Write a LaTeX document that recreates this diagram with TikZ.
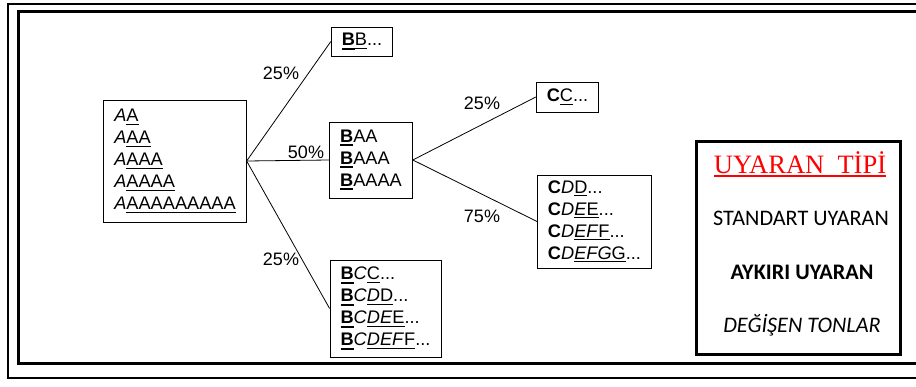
\documentclass[tikz,border=0pt]{standalone}
\usepackage{fontspec}
\setmainfont{Liberation Sans}
\newfontfamily\carlito{Carlito}
\newfontfamily\tnr{Liberation Serif}
\usetikzlibrary{positioning}

% underline with a given thickness
\newcommand{\undl}[2][1.1pt]{\setbox0=\hbox{#2}\rlap{\rule[\dimexpr-2pt-#1\relax]{\wd0}{#1}}\box0}
\newcommand{\bB}{\undl[2.2pt]{\textbf{B}}}

\begin{document}
\begin{tikzpicture}[x=1pt,y=1pt,
  seqbox/.style={rectangle,draw,line width=0.9pt,align=left,inner xsep=10.5pt,inner ysep=0pt,font=\fontsize{18.2}{22}\selectfont},
  branch/.style={line width=0.8pt},
  pct/.style={font=\fontsize{18}{22}\selectfont},
  keytxt/.style={font=\carlito\fontsize{22.2}{26}\selectfont,anchor=base},
]
\useasboundingbox (0,0) rectangle (916,386);
\clip (0,0) rectangle (916,386);

% ==== frames ====
\draw[line width=2pt] (8,8) rectangle (940,382);
\draw[line width=3pt] (18,22.5) rectangle (940,374);

% ==== sequences ====
\node[seqbox,minimum height=122pt] (A) at (175,225) {\textit{A}\undl{A}\\
  \textit{A}\undl{AA}\\
  \textit{A}\undl{AAA}\\
  \textit{A}\undl{AAAA}\\
  \textit{A}\undl{AAAAAAAAA}};

\node[seqbox,minimum height=29pt] (B1) at (362,344.5) {\bB\undl{B}...};
\node[seqbox,minimum height=76pt] (B2) at (371,226) {\bB AA\\ \bB AAA\\ \bB AAAA};
\node[seqbox,minimum height=97pt] (B3) at (385.5,77.5) {\bB\textit{C}\undl{C}...\\
  \bB\textit{C}\undl{\textit{D}D}...\\
  \bB\textit{C}\undl{\textit{DE}E}...\\
  \bB\textit{C}\undl{\textit{DEF}F}...};

\node[seqbox,minimum height=30pt] (C1) at (567.5,289) {\textbf{C}\undl{C}...};
\node[seqbox,minimum height=93pt] (C2) at (594.5,164.5) {\textbf{C}\textit{D}\undl{D}...\\
  \textbf{C}\textit{D}\undl{\textit{E}E}...\\
  \textbf{C}\textit{D}\undl{\textit{EF}F}...\\
  \textbf{C}\textit{D}\undl{\textit{EFG}G}...};

% ==== branches ====
\draw[branch] (A.east) -- (B1.west);
\draw[branch] (A.east) -- (B2.west);
\draw[branch] (A.east) -- (B3.west);
\draw[branch] (B2.east) -- (C1.west);
\draw[branch] (B2.east) -- (C2.west);

\node[pct] (pB1) at (281,313) {25\%};
\node[pct] (pB2) at (306,234) {50\%};
\node[pct] (pB3) at (281,127) {25\%};
\node[pct] (pC1) at (482,283) {25\%};
\node[pct] (pC2) at (482,170) {75\%};

% ==== key ====
\node[draw,line width=3pt,inner sep=0pt,minimum width=204pt,minimum height=212.5pt] (key) at (798.5,138.25) {};
\node[font=\tnr\fontsize{26.5}{30}\selectfont,text=red,anchor=base] (keytitle) at (800,212.7) {\undl[1.6pt]{UYARAN\ \ TİPİ}};
\node[keytxt] (std) at (801,160.3) {STANDART UYARAN};
\node[keytxt,font=\carlito\bfseries\fontsize{22.2}{26}\selectfont] (dev) at (802,106.7) {AYKIRI UYARAN};
\node[keytxt,font=\carlito\itshape\fontsize{22.2}{26}\selectfont] (chg) at (802,53.7) {DEĞİŞEN TONLAR};

\end{tikzpicture}
\end{document}
